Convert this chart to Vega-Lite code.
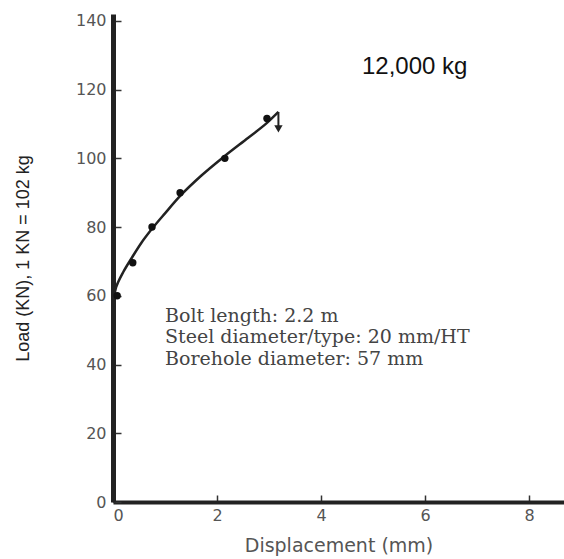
{
  "$schema": "https://vega.github.io/schema/vega-lite/v6.json",
  "width": 451,
  "height": 488,
  "autosize": {"type": "none"},
  "padding": {"left": 113, "top": 14, "right": 0, "bottom": 57},
  "background": "white",
  "config": {
    "view": {"stroke": null},
    "axis": {"grid": false, "labelFont": "DejaVu Sans", "labelColor": "#555", "titleFontWeight": "normal"}
  },
  "datasets": {
    "curve": [
      {"d": 0.0, "load": 57},
      {"d": 0.03, "load": 60.5},
      {"d": 0.06, "load": 62.5},
      {"d": 0.1, "load": 64},
      {"d": 0.2, "load": 67},
      {"d": 0.38, "load": 71.5},
      {"d": 0.55, "load": 75.5},
      {"d": 0.75, "load": 79.5},
      {"d": 1.0, "load": 84},
      {"d": 1.3, "load": 89.2},
      {"d": 1.7, "load": 95},
      {"d": 2.15, "load": 100.7},
      {"d": 2.6, "load": 106},
      {"d": 2.96, "load": 110.3},
      {"d": 3.18, "load": 113.5}
    ],
    "points": [
      {"d": 0.08, "load": 60},
      {"d": 0.38, "load": 69.6},
      {"d": 0.75, "load": 80},
      {"d": 1.29, "load": 90},
      {"d": 2.15, "load": 100},
      {"d": 2.96, "load": 111.6}
    ],
    "arrow": [
      {"d": 3.18, "load": 113.5},
      {"d": 3.18, "load": 109}
    ],
    "arrowhead": [
      {"d": 3.18, "load": 108.6}
    ],
    "title": [
      {"d": 5.8, "load": 126.6, "label": "12,000 kg"}
    ],
    "note": [
      {"d": 1.0, "load": 52.4}
    ]
  },
  "layer": [
    {
      "data": {"name": "curve"},
      "mark": {"type": "line", "interpolate": "monotone", "color": "#222", "strokeWidth": 2.5},
      "encoding": {
        "x": {
          "field": "d", "type": "quantitative",
          "scale": {"domain": [0, 8.67], "nice": false, "zero": false},
          "axis": {
            "values": [0, 2, 4, 6, 8],
            "title": "Displacement (mm)",
            "titleFont": "DejaVu Sans", "titleFontSize": 19, "titleColor": "#555",
            "titlePadding": 13,
            "domainWidth": 4, "domainColor": "#222",
            "tickSize": -7, "tickColor": "#333", "tickWidth": 1.5,
            "labelFontSize": 16, "labelPadding": 12
          }
        },
        "y": {
          "field": "load", "type": "quantitative",
          "scale": {"domain": [0, 142], "nice": false},
          "axis": {
            "values": [0, 20, 40, 60, 80, 100, 120, 140],
            "title": "Load (KN), 1 KN = 102 kg",
            "titleFont": "Liberation Sans", "titleFontSize": 18, "titleColor": "#222",
            "titlePadding": 43,
            "domainWidth": 5, "domainColor": "#222",
            "tickSize": -8, "tickColor": "#333", "tickWidth": 1.5,
            "labelFontSize": 16, "labelPadding": 15
          }
        }
      }
    },
    {
      "data": {"name": "arrow"},
      "mark": {"type": "line", "color": "#222", "strokeWidth": 2},
      "encoding": {
        "x": {"field": "d", "type": "quantitative"},
        "y": {"field": "load", "type": "quantitative"}
      }
    },
    {
      "data": {"name": "arrowhead"},
      "mark": {"type": "point", "shape": "triangle-down", "filled": true, "color": "#222", "opacity": 1, "size": 70},
      "encoding": {
        "x": {"field": "d", "type": "quantitative"},
        "y": {"field": "load", "type": "quantitative"}
      }
    },
    {
      "data": {"name": "points"},
      "mark": {"type": "point", "shape": "circle", "filled": true, "color": "#111", "opacity": 1, "size": 55},
      "encoding": {
        "x": {"field": "d", "type": "quantitative"},
        "y": {"field": "load", "type": "quantitative"}
      }
    },
    {
      "data": {"name": "title"},
      "mark": {"type": "text", "font": "Liberation Sans", "fontSize": 24, "color": "#111", "align": "center", "baseline": "middle"},
      "encoding": {
        "x": {"field": "d", "type": "quantitative"},
        "y": {"field": "load", "type": "quantitative"},
        "text": {"field": "label"}
      }
    },
    {
      "data": {"name": "note"},
      "mark": {
        "type": "text",
        "text": ["Bolt length: 2.2 m", "Steel diameter/type: 20 mm/HT", "Borehole diameter: 57 mm"],
        "font": "DejaVu Serif", "fontSize": 19, "color": "#444", "align": "left", "baseline": "alphabetic", "lineHeight": 21.5
      },
      "encoding": {
        "x": {"field": "d", "type": "quantitative"},
        "y": {"field": "load", "type": "quantitative"}
      }
    }
  ]
}
